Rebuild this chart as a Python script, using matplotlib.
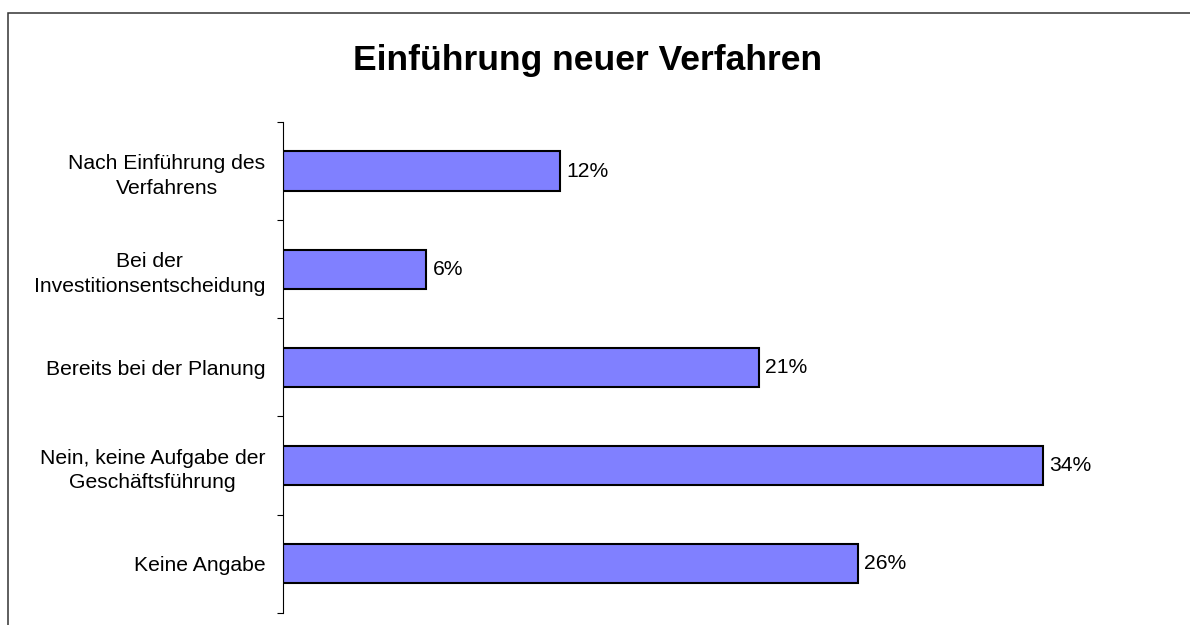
import matplotlib
matplotlib.use("Agg")
import matplotlib.pyplot as plt
from matplotlib.patches import Rectangle

plt.rcParams["font.family"] = ["Liberation Sans", "DejaVu Sans"]

TITLE = "Einführung neuer Verfahren"
CATEGORIES = [
    "Nach Einführung des\nVerfahrens",
    "Bei der\nInvestitionsentscheidung",
    "Bereits bei der Planung",
    "Nein, keine Aufgabe der\nGeschäftsführung",
    "Keine Angabe",
]
# shares in percent
VALUES = [12.4, 6.4, 21.3, 34.0, 25.7]
BAR_COLOR = "#8080FF"


def main():
    fig = plt.figure(figsize=(11.9, 6.25), dpi=100)
    ax = fig.add_axes([0.2381, 0.0197, 0.7513, 0.785])

    y = list(range(len(CATEGORIES)))
    ax.barh(y, VALUES, height=0.4, color=BAR_COLOR, edgecolor="black", linewidth=1.5)
    for yi, v in zip(y, VALUES):
        ax.text(v + 0.27, yi, f"{v:.0f}%", va="center", ha="left", fontsize=15.2)

    ax.set_xlim(0, 40)
    ax.set_ylim(len(CATEGORIES) - 0.5, -0.5)

    for s in ("top", "right", "bottom"):
        ax.spines[s].set_visible(False)
    ax.spines["left"].set_linewidth(0.8)
    ax.set_xticks([])

    ax.set_yticks(y)
    ax.set_yticklabels(CATEGORIES, fontsize=15.2, multialignment="center",
                       linespacing=1.4)
    ax.tick_params(axis="y", which="major", length=0, pad=13)
    ax.set_yticks([i - 0.5 for i in range(len(CATEGORIES) + 1)], minor=True)
    ax.tick_params(axis="y", which="minor", length=4.3, width=0.8, direction="out")

    fig.text(0.494, 0.888, TITLE, ha="center", va="baseline",
             fontsize=25.5, fontweight="bold")

    # frame around the chart area (runs off the right and bottom edge)
    fig.patches.append(Rectangle((8 / 1190, -0.1), 1.2, 0.1 + 612.5 / 625,
                                 transform=fig.transFigure, fill=False,
                                 edgecolor="#333333", linewidth=1.1))

    fig.savefig("out.png", dpi=100)


if __name__ == "__main__":
    main()
